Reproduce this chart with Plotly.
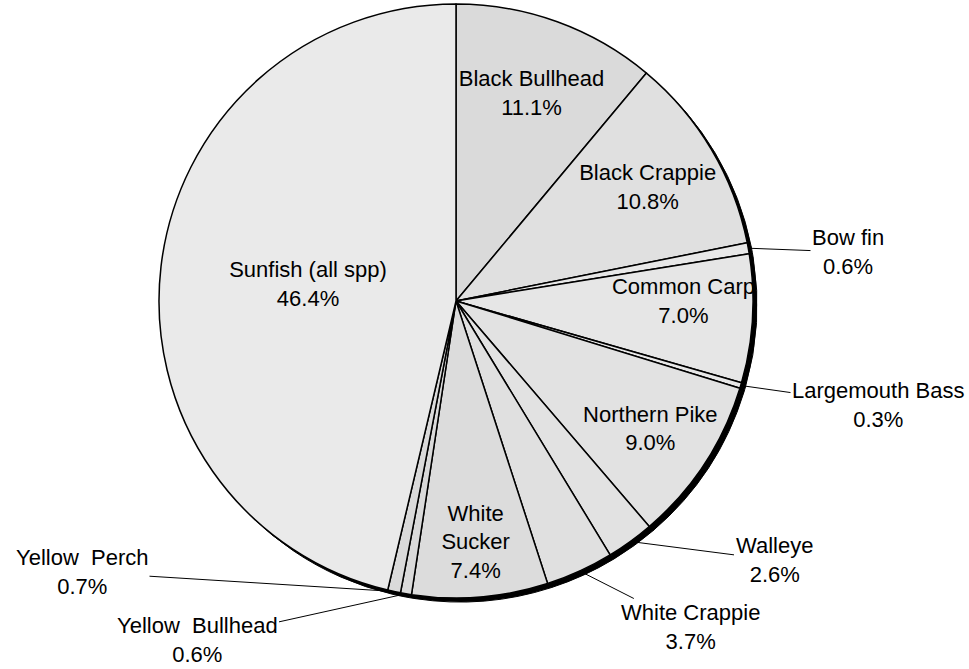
import math
import plotly.graph_objects as go

species = ["Black Bullhead", "Black Crappie", "Bow fin", "Common Carp", "Largemouth Bass",
           "Northern Pike", "Walleye", "White Crappie", "White Sucker", "Yellow Bullhead",
           "Yellow Perch", "Sunfish (all spp)"]
display = ["Black Bullhead", "Black Crappie", "Bow fin", "Common Carp", "Largemouth Bass",
           "Northern Pike", "Walleye", "White Crappie", "White<br>Sucker", "Yellow  Bullhead",
           "Yellow  Perch", "Sunfish (all spp)"]
percent = [11.1, 10.8, 0.6, 7.0, 0.3, 9.0, 2.6, 3.7, 7.4, 0.6, 0.7, 46.4]
inside = [True, True, False, True, False, True, False, False, True, False, False, True]
fills = ["#dadada", "#e0e0e0", "#e8e8e8", "#e6e6e6", "#e8e8e8", "#e2e2e2", "#e2e2e2",
         "#e0e0e0", "#dcdcdc", "#dadada", "#dadada", "#eaeaea"]

# layout (pixel) positions for the outside label blocks
label_pos = {"Bow fin": (848, 252), "Largemouth Bass": (878, 405), "Walleye": (774, 560),
             "White Crappie": (690, 627), "Yellow  Perch": (82, 572), "Yellow  Bullhead": (197, 640)}

W, H = 969, 669
cx, cy, r = 456, 301, 297
FONT = "Liberation Sans, Arial"
FS = 22
dom_x = [(cx - r) / W, (cx + r) / W]
dom_y = [(H - (cy + r)) / H, (H - (cy - r)) / H]
off = 4
sh_x = [(cx - r + off) / W, (cx + r + off) / W]
sh_y = [(H - (cy + r + off)) / H, (H - (cy - r + off)) / H]

fig = go.Figure()
fig.add_trace(go.Pie(
    labels=species, values=percent, sort=False, direction="clockwise", rotation=0,
    marker=dict(colors=["#000000"] * len(percent), line=dict(color="#000000", width=1)),
    textinfo="none", hoverinfo="skip", showlegend=False,
    domain=dict(x=sh_x, y=sh_y),
))
fig.add_trace(go.Pie(
    labels=species, values=percent, text=display, sort=False, direction="clockwise", rotation=0,
    marker=dict(colors=fills, line=dict(color="#000000", width=1.5)),
    texttemplate="%{text}<br>%{value:.1f}%",
    textposition=["inside" if i else "none" for i in inside],
    insidetextorientation="horizontal",
    textfont=dict(family=FONT, size=FS, color="#000000"),
    showlegend=False,
    domain=dict(x=dom_x, y=dom_y),
))

total = sum(percent)
cum = 0.0
for name, v, ins in zip(display, percent, inside):
    mid = (cum + v / 2) / total * 2 * math.pi
    cum += v
    if ins:
        continue
    px = cx + r * math.sin(mid)
    py = cy - r * math.cos(mid)
    lx, ly = label_pos[name]
    fig.add_annotation(
        x=px / W, y=1 - py / H, xref="paper", yref="paper",
        text=f"{name}<br>{v:.1f}%", showarrow=True, arrowhead=0, arrowwidth=1,
        arrowcolor="#000000", ax=lx - px, ay=ly - py, standoff=0,
        font=dict(family=FONT, size=FS, color="#000000"), align="center",
    )

fig.update_layout(
    width=W, height=H, margin=dict(l=0, r=0, t=0, b=0),
    paper_bgcolor="white", plot_bgcolor="white",
    font=dict(family=FONT, size=FS, color="#000000"),
    uniformtext=dict(minsize=FS, mode="show"),
)
fig.write_html("out.html")
